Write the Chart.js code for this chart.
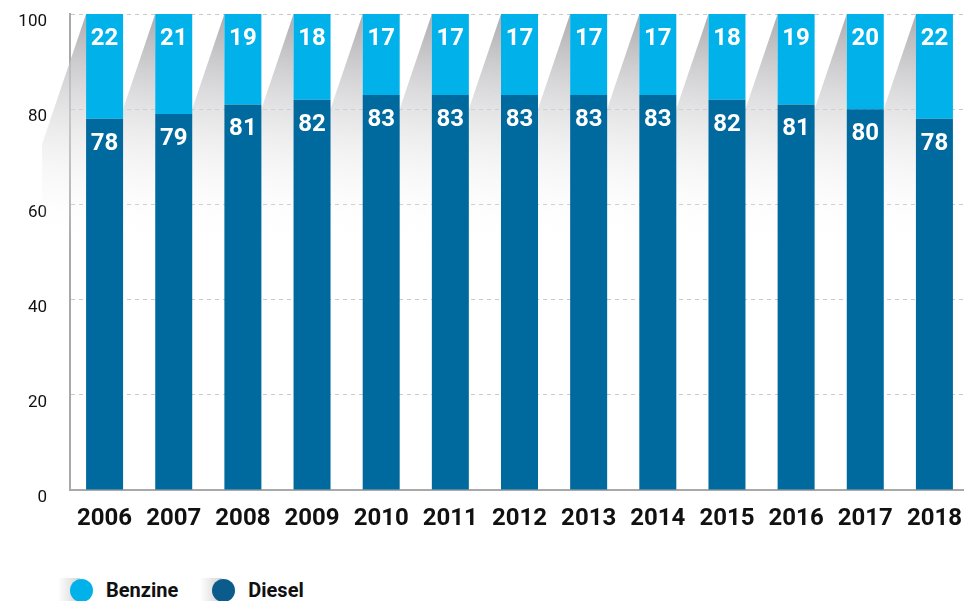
<!DOCTYPE html>
<html lang="en">
<head>
  <meta charset="UTF-8">
  <title>Benzine vs Diesel</title>
  <script src="https://cdn.jsdelivr.net/npm/chart.js"></script>
  <style>
    body {
      margin: 0;
      background: #fff;
      overflow: hidden;
      font-family: Roboto, sans-serif;
      width: 964px;
      height: 601px;
      position: relative;
    }
    #chart {
      position: absolute;
      left: 0;
      top: 0;
    }
    .legend {
      position: absolute;
      left: 58px;
      top: 578px;
      display: flex;
      align-items: center;
      font-weight: bold;
      font-size: 20px;
      color: #111;
    }
    .item {
      display: flex;
      align-items: center;
      margin-right: 22px;
    }
    .dot {
      width: 23px;
      height: 23px;
      border-radius: 50%;
      margin-right: 13px;
      position: relative;
    }
    .shade {
      width: 22px;
      height: 24px;
      background: linear-gradient(to right, rgba(255,255,255,0), rgba(205,205,205,0.9));
      margin-right: -10px;
    }
  </style>
</head>
<body>
  <canvas id="chart" width="969" height="548"></canvas>
  <div class="legend" id="legend"></div>

  <script>
    const years = ['2006', '2007', '2008', '2009', '2010', '2011', '2012', '2013', '2014', '2015', '2016', '2017', '2018'];
    const diesel = [78, 79, 81, 82, 83, 83, 83, 83, 83, 82, 81, 80, 78];
    const benzine = [22, 21, 19, 18, 17, 17, 17, 17, 17, 18, 19, 20, 22];
    const yTicks = [0, 20, 40, 60, 80, 100];

    const dieselColor = '#006a9e';
    const benzineColor = '#00b1ea';

    // grey slanted shade to the left of every bar
    const shadePlugin = {
      id: 'shade',
      beforeDatasetsDraw(chart) {
        const ctx = chart.ctx;
        const meta = chart.getDatasetMeta(1);
        ctx.save();
        meta.data.forEach(bar => {
          const left = bar.x - bar.width / 2;
          const top = bar.y;
          const g = ctx.createLinearGradient(left, top, left - 30, top + 230);
          g.addColorStop(0, 'rgba(168,166,170,0.95)');
          g.addColorStop(0.45, 'rgba(215,215,217,0.6)');
          g.addColorStop(1, 'rgba(255,255,255,0)');
          ctx.fillStyle = g;
          ctx.beginPath();
          ctx.moveTo(left, top);
          ctx.lineTo(left - 44, top + 130);
          ctx.lineTo(left - 44, top + 260);
          ctx.lineTo(left, top + 260);
          ctx.closePath();
          ctx.fill();
        });
        ctx.restore();
      }
    };

    // white values near the top of each segment
    const valuePlugin = {
      id: 'values',
      afterDatasetsDraw(chart) {
        const ctx = chart.ctx;
        ctx.save();
        ctx.fillStyle = '#fff';
        ctx.font = 'bold 24px Roboto';
        ctx.textAlign = 'center';
        ctx.textBaseline = 'middle';
        chart.data.datasets.forEach((ds, i) => {
          chart.getDatasetMeta(i).data.forEach((bar, j) => {
            ctx.fillText(ds.data[j], bar.x, bar.y + 25);
          });
        });
        ctx.restore();
      }
    };

    new Chart(document.getElementById('chart'), {
      type: 'bar',
      data: {
        labels: years,
        datasets: [
          { label: 'Diesel', data: diesel, backgroundColor: dieselColor },
          { label: 'Benzine', data: benzine, backgroundColor: benzineColor }
        ]
      },
      options: {
        responsive: false,
        animation: false,
        layout: { padding: { top: 14, right: 0, left: 0, bottom: 0 } },
        datasets: {
          bar: { barPercentage: 0.535, categoryPercentage: 1 }
        },
        plugins: {
          legend: { display: false },
          tooltip: { enabled: false }
        },
        scales: {
          x: {
            stacked: true,
            grid: { display: false },
            border: { color: '#a9a9a9', width: 2 },
            ticks: {
              color: '#111',
              font: { family: 'Roboto', size: 24, weight: 'bold' },
              padding: 7,
              maxRotation: 0
            },
            afterFit(scale) {
              scale.height = 58;
              scale.paddingLeft = 0;
              scale.paddingRight = 0;
            }
          },
          y: {
            stacked: true,
            min: 0,
            max: 100,
            afterBuildTicks(scale) { scale.ticks = yTicks.map(v => ({ value: v })); },
            grid: {
              drawTicks: false,
              color: ctx => ctx.tick && ctx.tick.value === 0 ? 'rgba(0,0,0,0)' : '#c9c9c9',
              lineWidth: 1
            },
            border: { color: '#a9a9a9', width: 2, dash: [4, 4] },
            ticks: {
              color: '#111',
              font: { family: 'Roboto', size: 17 },
              padding: 23,
              labelOffset: 8
            },
            afterFit(scale) {
              scale.width = 70;
              scale.paddingTop = 0;
              scale.paddingBottom = 0;
            }
          }
        }
      },
      plugins: [shadePlugin, valuePlugin]
    });

    const legendItems = [
      { label: 'Benzine', color: benzineColor },
      { label: 'Diesel', color: '#0b5b8c' }
    ];
    const legend = document.getElementById('legend');
    legendItems.forEach(it => {
      const el = document.createElement('div');
      el.className = 'item';
      el.innerHTML = '<span class="shade"></span><span class="dot" style="background:' + it.color + '"></span>' + it.label;
      legend.appendChild(el);
    });
  </script>
</body>
</html>
